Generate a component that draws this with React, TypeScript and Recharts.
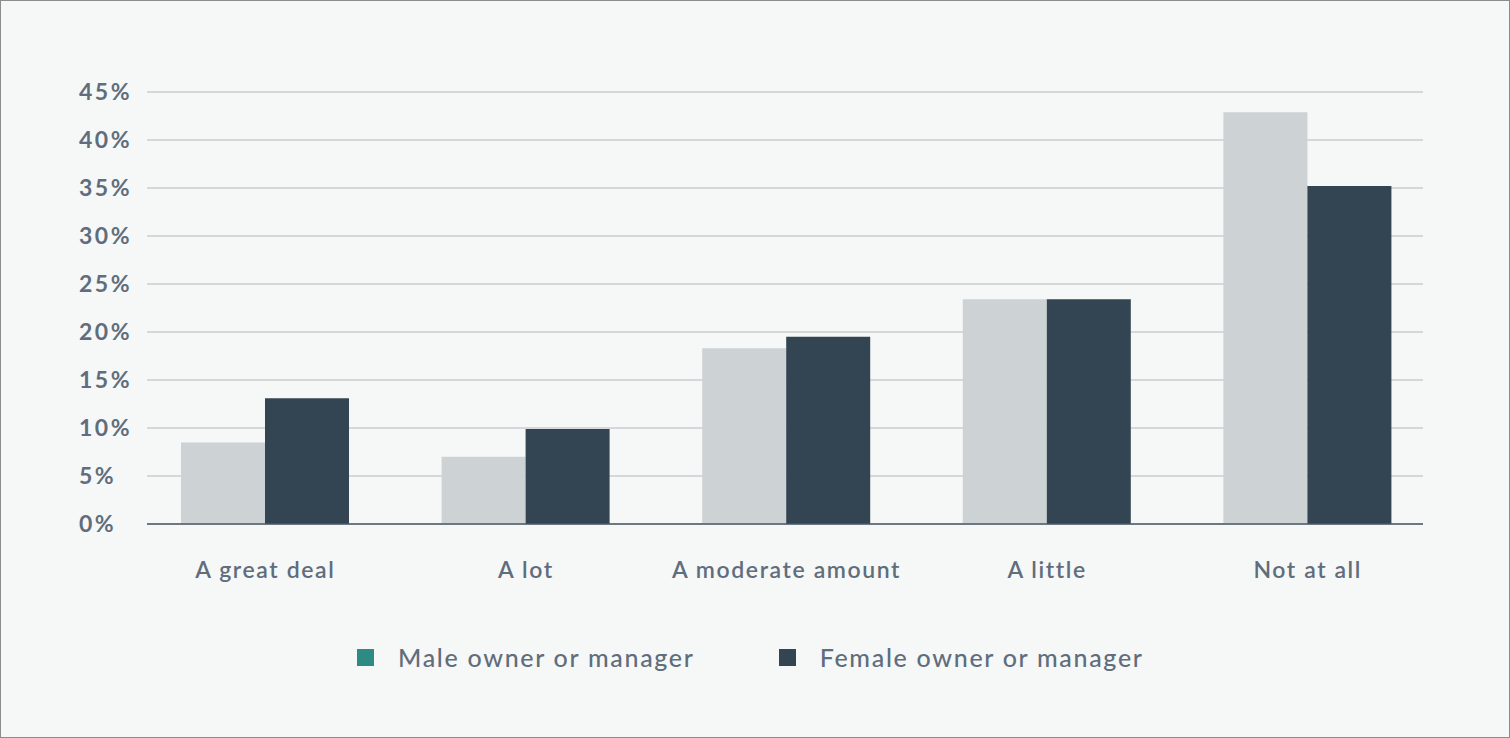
import React from 'react';
import { BarChart, Bar, XAxis, YAxis, CartesianGrid } from 'recharts';

const categories = ['A great deal', 'A lot', 'A moderate amount', 'A little', 'Not at all'];
const maleValues = [8.5, 7.0, 18.3, 23.4, 42.9];
const femaleValues = [13.1, 9.9, 19.5, 23.4, 35.2];
const yTicks = [0, 5, 10, 15, 20, 25, 30, 35, 40, 45];

const series = [
  { key: 'male', name: 'Male owner or manager', fill: '#cdd2d5', swatch: '#2e8b83' },
  { key: 'female', name: 'Female owner or manager', fill: '#334552', swatch: '#334552' },
];

const data = categories.map((c, i) => ({
  category: c,
  male: maleValues[i],
  female: femaleValues[i],
}));

const FONT = 'Lato, "Noto Sans", sans-serif';
const TEXT = '#5f6d7c';

const YTick = ({ y, payload }: any) => (
  <text
    x={79}
    y={y}
    dy={8}
    textAnchor="start"
    fill={TEXT}
    fontFamily={FONT}
    fontSize={23}
    fontWeight={700}
    letterSpacing={2.5}
  >
    {payload.value}%
  </text>
);

const XTick = ({ x, payload }: any) => (
  <text
    x={x}
    y={578}
    textAnchor="middle"
    fill={TEXT}
    fontFamily={FONT}
    fontSize={23}
    fontWeight={600}
    letterSpacing={1.6}
  >
    {payload.value}
  </text>
);

export default function App() {
  return (
    <div
      style={{
        position: 'relative',
        width: 1510,
        height: 738,
        background: '#f6f7f7',
        boxSizing: 'border-box',
        border: '1px solid #8c8c8c',
      }}
    >
      <style>{`body{margin:0}`}</style>
      <div style={{ position: 'absolute', left: -1, top: -1 }}>
        <BarChart
          width={1510}
          height={738}
          data={data}
          margin={{ top: 92, right: 87, left: 79, bottom: 154 }}
          barGap={0}
          barSize={84}
        >
          <CartesianGrid horizontal vertical={false} stroke="#d4d8db" strokeWidth={2} />
          <XAxis
            dataKey="category"
            height={60}
            tickLine={false}
            axisLine={{ stroke: '#4b5866', strokeWidth: 1.5 }}
            tick={<XTick />}
            padding={{ left: -12, right: -15 }}
            interval={0}
          />
          <YAxis
            width={68}
            domain={[0, 45]}
            ticks={yTicks}
            axisLine={false}
            tickLine={false}
            tick={<YTick />}
          />
          {series.map((s) => (
            <Bar key={s.key} dataKey={s.key} name={s.name} fill={s.fill} isAnimationActive={false} />
          ))}
        </BarChart>
      </div>
      <div
        style={{
          position: 'absolute',
          top: 641,
          left: 356,
          display: 'flex',
          alignItems: 'center',
          fontFamily: FONT,
          fontSize: 25,
          fontWeight: 500,
          color: TEXT,
          letterSpacing: 1.7,
        }}
      >
        {series.map((s, i) => (
          <div key={s.key} style={{ display: 'flex', alignItems: 'center', marginRight: i === 0 ? 84 : 0 }}>
            <span style={{ width: 17, height: 17, background: s.swatch, display: 'inline-block', marginRight: 24 }} />
            <span>{s.name}</span>
          </div>
        ))}
      </div>
    </div>
  );
}
